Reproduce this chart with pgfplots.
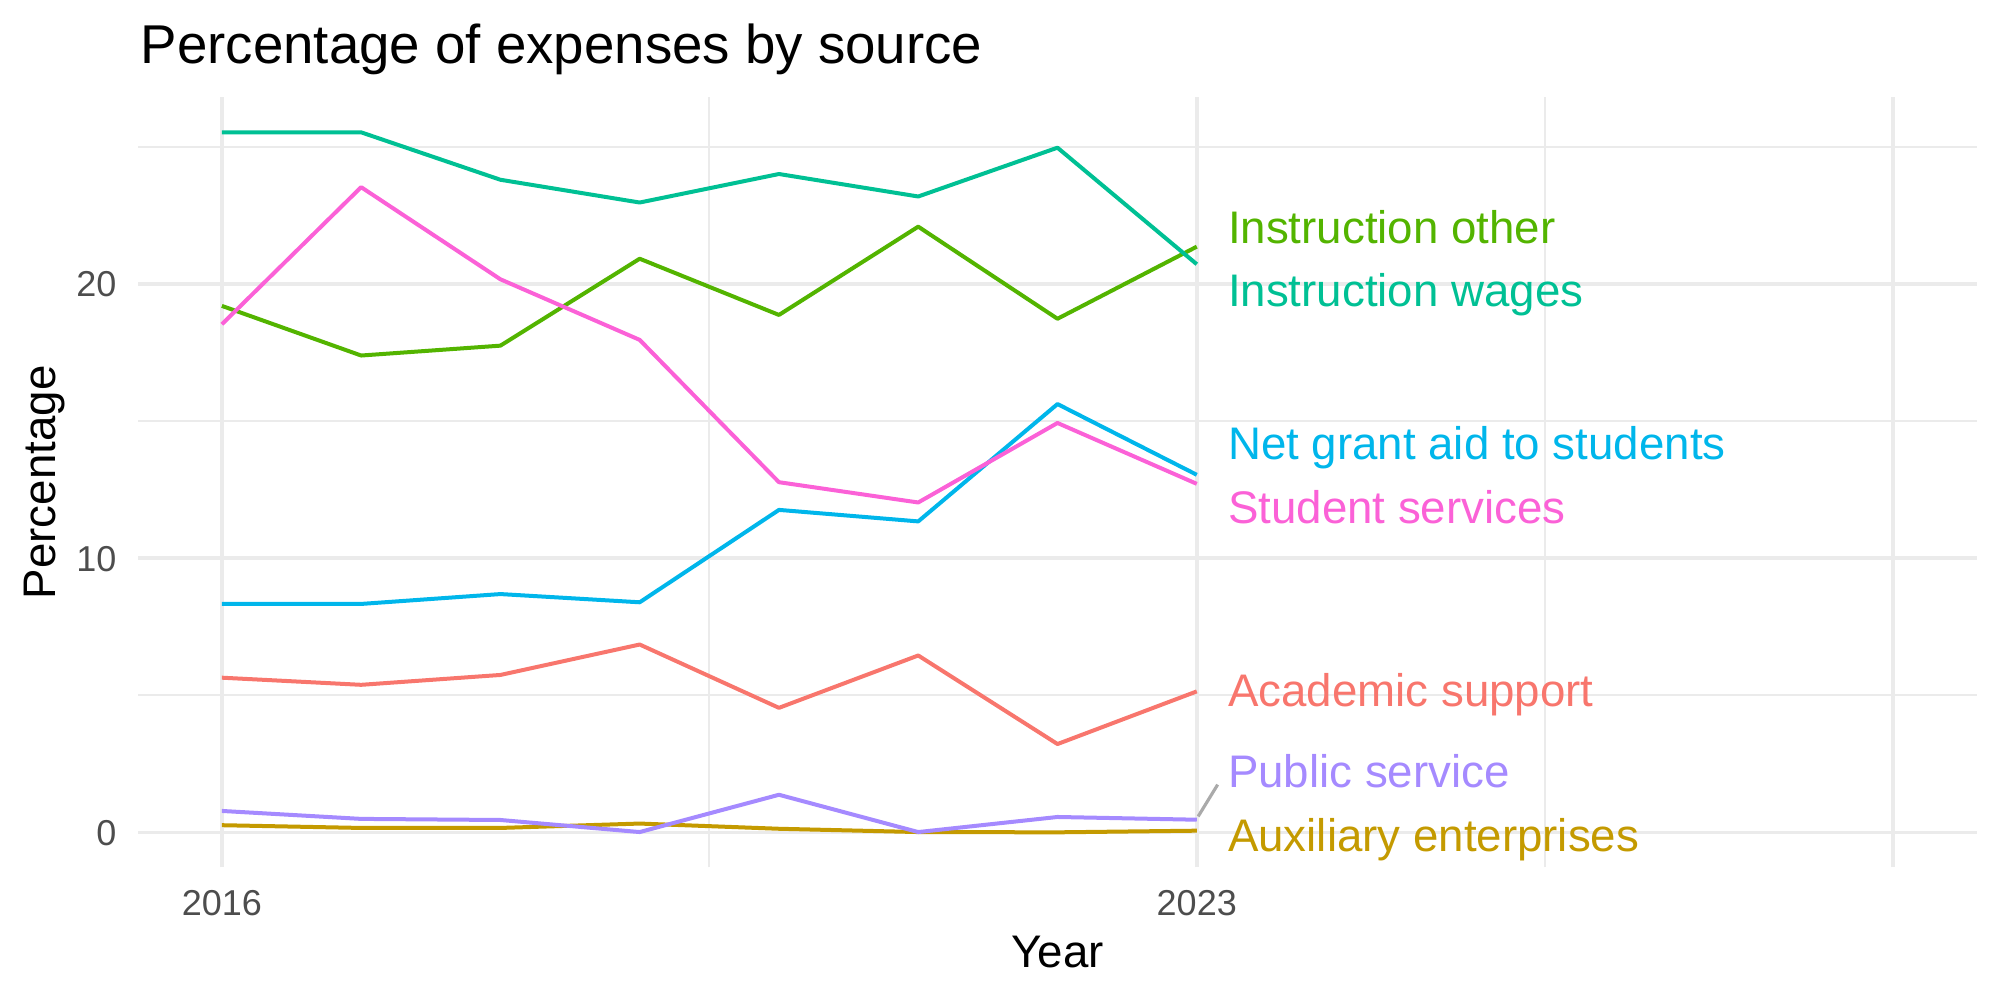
\documentclass[border=0pt]{standalone}
\usepackage{pgfplots}
\pgfplotsset{compat=1.18}
\usepackage{pgfplotstable}
\usepackage{fontspec}
\setmainfont{Liberation Sans}

% expense shares (%) by year
\pgfplotstableread{
year  acad  aux   instO  instW  grant  pub   stud
2016  5.64  0.26  19.20  25.53  8.33   0.78  18.53
2017  5.38  0.16  17.39  25.53  8.33   0.49  23.53
2018  5.74  0.16  17.75  23.80  8.69   0.45  20.17
2019  6.85  0.32  20.92  22.97  8.39   0.01  17.96
2020  4.54  0.13  18.87  24.01  11.76  1.37  12.77
2021  6.45  0.01  22.09  23.19  11.34  0.01  12.03
2022  3.22  0.00  18.73  24.97  15.62  0.56  14.93
2023  5.14  0.06  21.36  20.72  13.04  0.46  12.71
}\expenses

\definecolor{cAcad}{HTML}{F8766D}
\definecolor{cAux}{HTML}{C49A00}
\definecolor{cInstO}{HTML}{53B400}
\definecolor{cInstW}{HTML}{00C094}
\definecolor{cGrant}{HTML}{00B6EB}
\definecolor{cPub}{HTML}{A58AFF}
\definecolor{cStud}{HTML}{FB61D7}
\definecolor{gridgrey}{HTML}{EBEBEB}
\definecolor{ticktext}{HTML}{4D4D4D}
\definecolor{seggrey}{HTML}{AAAAAA}

\begin{document}
\begin{tikzpicture}
\useasboundingbox (-41.5pt,-39.8pt) rectangle (558.5pt,260.2pt);
\begin{axis}[
  scale only axis,
  width=551.5pt, height=231pt,
  xmin=2015.4, xmax=2028.6,
  ymin=-1.2765, ymax=26.8065,
  xtick={2016,2023,2028},
  xticklabels={2016,2023,{}},
  minor xtick={2019.5,2025.5},
  ytick={0,10,20},
  minor ytick={5,15,25},
  grid=both,
  major grid style={draw=gridgrey, line width=1.1pt},
  minor grid style={draw=gridgrey, line width=0.55pt},
  axis line style={draw=none},
  tick style={draw=none},
  /pgf/number format/assume math mode=true,
  ticklabel style={font=\fontsize{10.8}{12}\selectfont, text=ticktext, inner sep=0pt},
  xticklabel style={anchor=base, yshift=-14.3pt},
  yticklabel style={anchor=base east, xshift=-6.4pt, yshift=-3.9pt},
  clip=false,
  every axis plot/.append style={line width=1.2pt, line join=round},
]
\addplot[cAcad]  table[x=year, y=acad]  {\expenses};
\addplot[cAux]   table[x=year, y=aux]   {\expenses};
\addplot[cInstO] table[x=year, y=instO] {\expenses};
\addplot[cInstW] table[x=year, y=instW] {\expenses};
\addplot[cGrant] table[x=year, y=grant] {\expenses};
\addplot[cPub]   table[x=year, y=pub]   {\expenses};
\addplot[cStud]  table[x=year, y=stud]  {\expenses};

% connector for the displaced label
\draw[seggrey, line width=0.95pt] (axis cs:2023.01,0.58) -- (axis cs:2023.15,1.74);

% series labels
\begin{scope}[every node/.style={anchor=base west, inner sep=0pt, font=\fontsize{13.7}{16}\selectfont}]
\node[text=cInstO] at (axis cs:2023.22,21.49) {Instruction other};
\node[text=cInstW] at (axis cs:2023.22,19.18) {Instruction wages};
\node[text=cGrant] at (axis cs:2023.22,13.59) {Net grant aid to students};
\node[text=cStud]  at (axis cs:2023.22,11.28) {Student services};
\node[text=cAcad]  at (axis cs:2023.22,4.59)  {Academic support};
\node[text=cPub]   at (axis cs:2023.22,1.62)  {Public service};
\node[text=cAux]   at (axis cs:2023.22,-0.69) {Auxiliary enterprises};
\end{scope}
\end{axis}

% titles
\node[anchor=base west, inner sep=0pt, font=\fontsize{16.4}{19}\selectfont] at (0.5pt,241.0pt) {Percentage of expenses by source};
\node[anchor=base, inner sep=0pt, font=\fontsize{13.7}{16}\selectfont] at (275.75pt,-30pt) {Year};
\node[anchor=base, rotate=90, inner sep=0pt, font=\fontsize{13.7}{16}\selectfont] at (-24.8pt,115.5pt) {Percentage};
\end{tikzpicture}
\end{document}
